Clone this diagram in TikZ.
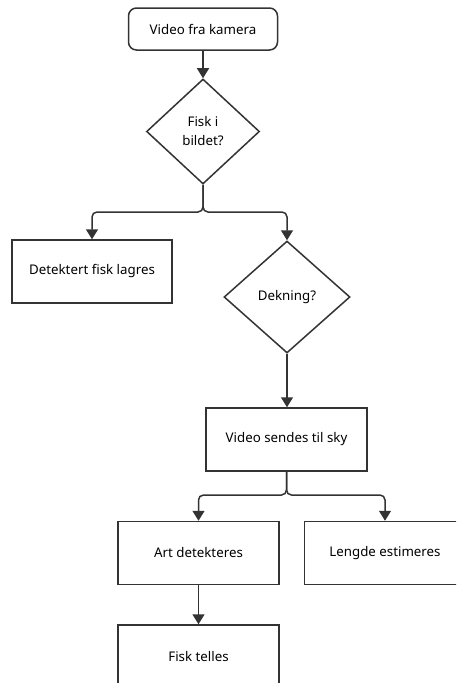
\documentclass[tikz,border=0pt]{standalone}
\usepackage{fontspec}
\setmainfont{Noto Sans}
\usetikzlibrary{arrows.meta,shapes.geometric}
\definecolor{ink}{HTML}{333333}
\tikzset{
  every node/.style={font=\fontsize{13.3}{19}\selectfont, text=black},
  procbox/.style={draw=ink, line width=1.5pt, rectangle, minimum width=161pt, minimum height=63pt, inner sep=0pt, align=center},
  startbox/.style={draw=ink, line width=1.5pt, rectangle, rounded corners=8pt, minimum width=149pt, minimum height=42pt, inner sep=0pt},
  decision/.style={draw=ink, line width=1.5pt, diamond, inner sep=0pt, align=center},
  flow/.style={draw=ink, line width=1.5pt, -{Triangle[length=10pt,width=12pt]}, rounded corners=5pt},
}
\begin{document}
\begin{tikzpicture}[x=1pt,y=-1pt]
\useasboundingbox (0,0) rectangle (456,683);
\clip (0,0) rectangle (456,683);

\node[startbox] (cam) at (203,29) {Video fra kamera};
\node[decision, minimum width=113pt, minimum height=105pt] (fisk) at (203,131.5) {Fisk i\\bildet?};
\node[procbox, minimum width=160pt] (lagre) at (92,271.5) {Detektert fisk lagres};
\node[decision, minimum width=126pt, minimum height=112pt] (dekn) at (287,297) {Dekning?};
\node[procbox] (sky) at (286.5,439.5) {Video sendes til sky};
\node[procbox] (art) at (198.5,553) {Art detekteres};
\node[procbox] (lengde) at (385,553) {Lengde estimeres};
\node[procbox] (telle) at (198.5,656.5) {Fisk telles};

\coordinate (split1) at (203,212);
\coordinate (split2) at (287,495);

\draw[flow] (cam) -- (fisk);
\draw[flow] (fisk.south) |- (lagre.north |- split1) -- (lagre.north);
\draw[flow] (fisk.south) |- (dekn.north |- split1) -- (dekn.north);
\draw[flow] (dekn.south) -- (dekn.south |- sky.north);
\draw[flow] (sky.south) |- (art.north |- split2) -- (art.north);
\draw[flow] (sky.south) |- (lengde.north |- split2) -- (lengde.north);
\draw[flow] (art) -- (telle);
\end{tikzpicture}
\end{document}
